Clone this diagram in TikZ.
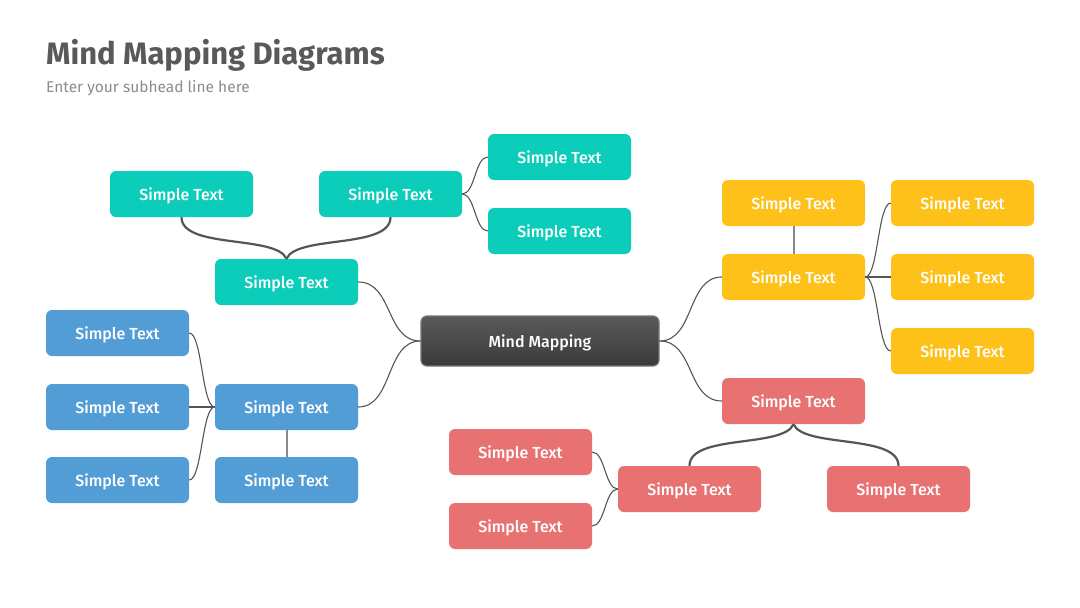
\documentclass[tikz,border=0pt]{standalone}
\usepackage{fontspec}
\setmainfont{Fira Sans}
\newfontfamily\medfont{Fira Sans}[UprightFont={* Medium}]
\newfontfamily\boldfont{Fira Sans}[UprightFont={* Bold}]
\definecolor{mmteal}{HTML}{0BCDB9}
\definecolor{mmblue}{HTML}{539DD6}
\definecolor{mmyellow}{HTML}{FDC119}
\definecolor{mmred}{HTML}{E87272}
\definecolor{mmline}{HTML}{555555}
\definecolor{mmvert}{HTML}{8A8A8A}
\definecolor{mmtitle}{HTML}{595959}
\definecolor{mmsub}{HTML}{8C8C8C}
\definecolor{mmcenterA}{HTML}{5A5A5A}
\definecolor{mmcenterB}{HTML}{3A3A3A}
\definecolor{mmcenterC}{HTML}{777777}
\tikzset{
  box/.style={rounded corners=6pt, minimum width=143pt, minimum height=46pt,
    inner sep=0pt, text=white, font=\medfont\fontsize{16}{19}\selectfont,
    text height=12pt, text depth=0pt},
  tealbox/.style={box, fill=mmteal},
  bluebox/.style={box, fill=mmblue},
  yellowbox/.style={box, fill=mmyellow},
  redbox/.style={box, fill=mmred},
  centerbox/.style={rounded corners=6pt, minimum width=238pt, minimum height=50pt,
    inner sep=0pt, text=white, font=\medfont\fontsize{16}{19}\selectfont,
    text height=12pt, text depth=0pt, top color=mmcenterA, bottom color=mmcenterB,
    draw=mmcenterC, line width=1.2pt},
  thin/.style={draw=mmline, line width=1.1pt},
  brace/.style={draw=mmline, line width=2.2pt},
  vline/.style={draw=mmvert, line width=2pt},
}
\begin{document}
\begin{tikzpicture}[x=1pt,y=-1pt]
\useasboundingbox[fill=white] (0,0) rectangle (1080,608);
% title
\node[anchor=base west, inner sep=0pt, text=mmtitle, font=\boldfont\fontsize{31}{36}\selectfont] (title) at (46,64) {Mind Mapping Diagrams};
\node[anchor=base west, inner sep=0pt, text=mmsub, font=\fontsize{15.5}{19}\selectfont] (sub) at (46,92) {Enter your subhead line here};
% center
\node[centerbox] (c) at (540,341) {Mind Mapping};
% teal
\node[tealbox] (t1) at (181.5,194) {Simple Text};
\node[tealbox] (t2) at (390.5,194) {Simple Text};
\node[tealbox] (t3) at (559.5,157) {Simple Text};
\node[tealbox] (t4) at (559.5,231) {Simple Text};
\node[tealbox] (t5) at (286.5,282) {Simple Text};
% blue
\node[bluebox] (b1) at (117.5,333) {Simple Text};
\node[bluebox] (b2) at (117.5,407) {Simple Text};
\node[bluebox] (b3) at (117.5,480) {Simple Text};
\node[bluebox] (b4) at (286.5,407) {Simple Text};
\node[bluebox] (b5) at (286.5,480) {Simple Text};
% yellow
\node[yellowbox] (y1) at (793.5,203) {Simple Text};
\node[yellowbox] (y2) at (793.5,277) {Simple Text};
\node[yellowbox] (y3) at (962.5,203) {Simple Text};
\node[yellowbox] (y4) at (962.5,277) {Simple Text};
\node[yellowbox] (y5) at (962.5,351) {Simple Text};
% red
\node[redbox] (r1) at (793.5,401) {Simple Text};
\node[redbox] (r2) at (689.5,489) {Simple Text};
\node[redbox] (r3) at (898.5,489) {Simple Text};
\node[redbox] (r4) at (520.5,452) {Simple Text};
\node[redbox] (r5) at (520.5,526) {Simple Text};
% connectors: center
\draw[thin] (t5.east) .. controls +(35,0) and +(-35,0) .. (c.west);
\draw[thin] (b4.east) .. controls +(35,0) and +(-35,0) .. (c.west);
\draw[thin] (c.east) .. controls +(35,0) and +(-35,0) .. (y2.west);
\draw[thin] (c.east) .. controls +(35,0) and +(-35,0) .. (r1.west);
% teal
\draw[brace] (t1.south) .. controls +(0,32) and +(-10,-24) .. (t5.north);
\draw[brace] (t2.south) .. controls +(0,32) and +(10,-24) .. (t5.north);
\draw[thin] (t2.east) .. controls +(13,0) and +(-13,0) .. (t3.west);
\draw[thin] (t2.east) .. controls +(13,0) and +(-13,0) .. (t4.west);
% blue
\draw[thin] (b4.west) .. controls +(-13,0) and +(13,0) .. (b1.east);
\draw[thin] (b4.west) -- (b2.east);
\draw[thin] (b4.west) .. controls +(-13,0) and +(13,0) .. (b3.east);
\draw[vline] (b4.south) -- (b5.north);
% yellow
\draw[vline] (y2.north) -- (y1.south);
\draw[thin] (y2.east) .. controls +(13,0) and +(-13,0) .. (y3.west);
\draw[thin] (y2.east) -- (y4.west);
\draw[thin] (y2.east) .. controls +(13,0) and +(-13,0) .. (y5.west);
% red
\draw[brace] (r1.south) .. controls +(-10,24) and +(0,-32) .. (r2.north);
\draw[brace] (r1.south) .. controls +(10,24) and +(0,-32) .. (r3.north);
\draw[thin] (r2.west) .. controls +(-13,0) and +(13,0) .. (r4.east);
\draw[thin] (r2.west) .. controls +(-13,0) and +(13,0) .. (r5.east);
\end{tikzpicture}
\end{document}
